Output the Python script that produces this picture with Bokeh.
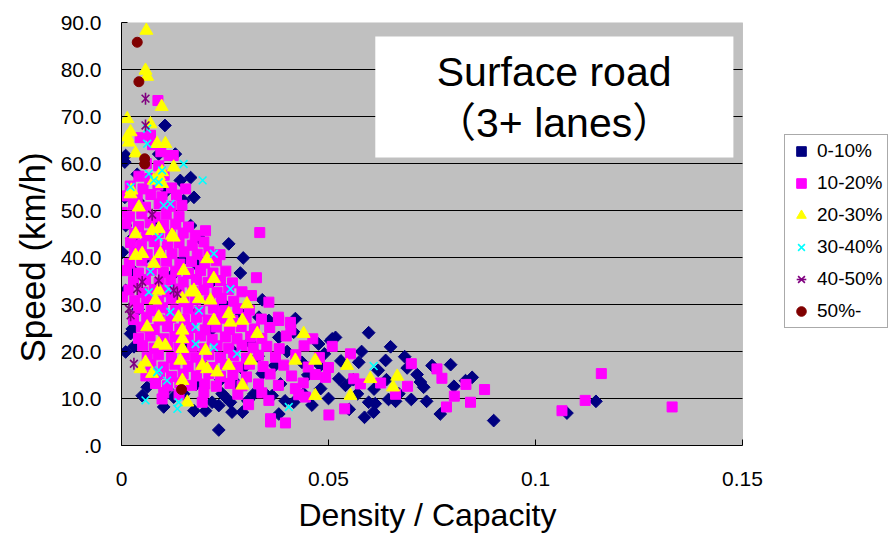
import math
from bokeh.plotting import figure
from bokeh.models import (Range1d, FixedTicker, CustomJSTickFormatter, Legend, LegendItem,
                          BoxAnnotation, Label, Title)
from bokeh.embed import file_html
from bokeh.resources import INLINE

# ---------------- data (Density/Capacity, Speed km/h) ----------------
series_labels = ["0-10%", "10-20%", "20-30%", "30-40%", "40-50%", "50%-"]
x_ticks = [0, 0.05, 0.1, 0.15]
y_ticks = [0, 10, 20, 30, 40, 50, 60, 70, 80, 90]

navy_pts = [
    (0.0105, 68.1), (0.001, 61.7), (0.0008, 60.3), (0.0038, 57.7), (0.013, 62), (0.0142, 56.4),
    (0.0167, 57), (0.0175, 52.8), (0.015, 52.1), (0.0008, 52.8), (0.011, 54.3), (0.001, 46.8),
    (0.0167, 46.8), (0.0259, 42.9), (0.0002, 41.1), (0.0147, 39.4), (0.0179, 38.7), (0.0294, 39.9),
    (0.0287, 36.7), (0.0247, 30.1), (0.001, 33), (0.0026, 24.8), (0.0219, 24.8), (0.0183, 28.4),
    (0.0332, 27.3), (0.0022, 23.8), (0.001, 19.9), (0.0062, 12.4), (0.005, 10.6), (0.0102, 8.2),
    (0.0175, 7.4), (0.0203, 7.4), (0.0235, 8.5), (0.0267, 7.1), (0.0243, 11), (0.0235, 3.3),
    (0.0126, 10.3), (0.0219, 9.2), (0.0292, 16.3), (0.0251, 10.3), (0.0263, 9.2), (0.0356, 26.6),
    (0.0416, 24.1), (0.0476, 21.6), (0.0509, 22.7), (0.0436, 17.7), (0.0384, 13.1), (0.034, 15.3),
    (0.0364, 10.6), (0.0525, 14.2), (0.0541, 12.8), (0.038, 6.7), (0.0352, 10.6), (0.0481, 12.1),
    (0.0292, 7.1), (0.0416, 9.2), (0.0505, 22.3), (0.0573, 17.7), (0.0517, 23), (0.0597, 24),
    (0.0684, 18.9), (0.0638, 18.1), (0.0795, 17.2), (0.0714, 15.1), (0.0722, 13.5), (0.073, 12.4),
    (0.0847, 14.5), (0.0831, 13.8), (0.0803, 12.6), (0.0737, 9.4), (0.077, 6.7), (0.0899, 5.3),
    (0.1146, 9.4), (0.1076, 6.9), (0.0587, 6), (0.0609, 7.1), (0.0597, 9.2), (0.0662, 9.4),
    (0.0645, 9.8), (0.0613, 8.9),
    (0.006, 40), (0.012, 36), (0.016, 22), (0.02, 17), (0.027, 20), (0.031, 22), (0.024, 14),
    (0.033, 19), (0.037, 17), (0.04, 20), (0.045, 15), (0.044, 11), (0.048, 17), (0.053, 18),
    (0.056, 14), (0.058, 20), (0.062, 16), (0.065, 21), (0.069, 16.5), (0.067, 11), (0.042, 27),
    (0.038, 23), (0.034, 31), (0.029, 28), (0.022, 35), (0.019, 44), (0.008, 47), (0.004, 52),
    (0.009, 62), (0.0025, 44), (0.003, 37), (0.004, 29), (0.003, 21), (0.008, 14), (0.011, 12),
    (0.015, 11), (0.018, 13), (0.028, 13), (0.032, 11), (0.046, 8.6), (0.05, 10), (0.055, 7.7),
    (0.07, 9.8), (0.075, 17), (0.061, 12), (0.057, 11), (0.064, 14), (0.049, 19.5), (0.0305, 9.5),
    (0.0395, 9.5),
]

magenta_pts = [
    (0.0042, 57.3), (0.0068, 56.8), (0.0103, 57.5),
    (0.0021, 55.2), (0.0052, 54.6), (0.0088, 55.4), (0.0121, 54.8),
    (0.0012, 53.1), (0.0038, 52.6), (0.0071, 53.4), (0.0098, 52.9), (0.0133, 53.3),
    (0.0029, 51.2), (0.0058, 50.7), (0.0091, 51.4), (0.0119, 50.9), (0.0146, 51.1),
    (0.0019, 48.8), (0.0049, 49.3), (0.0081, 48.6), (0.0108, 49.2), (0.0139, 48.7),
    (0.0011, 47.2), (0.0041, 46.6), (0.0069, 47.4), (0.0102, 46.9), (0.0131, 47.1), (0.0162, 46.5),
    (0.0032, 45.1), (0.0061, 44.6), (0.0089, 45.3), (0.0118, 44.8), (0.0149, 45.2), (0.0178, 44.7),
    (0.0022, 43.2), (0.0048, 42.7), (0.0079, 43.4), (0.0111, 42.8), (0.0139, 43.1), (0.0171, 42.6),
    (0.0199, 43.3),
    (0.0031, 41.1), (0.0062, 40.6), (0.0092, 41.3), (0.0122, 40.8), (0.0151, 41.2), (0.0183, 40.7),
    (0.0211, 41.2), (0.0238, 40.6),
    (0.0019, 38.8), (0.0049, 39.3), (0.0081, 38.7), (0.0109, 39.2), (0.0141, 38.6), (0.0169, 39.1),
    (0.0201, 38.8), (0.0229, 39.3),
    (0.0012, 37.2), (0.0041, 36.7), (0.0072, 37.3), (0.0101, 36.8), (0.0131, 37.1), (0.0162, 36.6),
    (0.0191, 37.2), (0.0221, 36.7), (0.0252, 37.1),
    (0.0029, 34.9), (0.0058, 35.3), (0.0091, 34.7), (0.0119, 35.2), (0.0149, 34.8), (0.0181, 35.3),
    (0.0209, 34.7), (0.0239, 35.1), (0.0268, 34.6),
    (0.0018, 33.1), (0.0051, 32.6), (0.0079, 33.2), (0.0111, 32.7), (0.0139, 33.3), (0.0172, 32.8),
    (0.0199, 33.1), (0.0231, 32.6), (0.0259, 33.2), (0.0291, 32.7),
    (0.0032, 30.8), (0.0061, 31.3), (0.0089, 30.7), (0.0121, 31.2), (0.0151, 30.6), (0.0179, 31.1),
    (0.0212, 30.8), (0.0241, 31.3), (0.0271, 30.7),
    (0.0041, 29.2), (0.0072, 28.7), (0.0099, 29.3), (0.0131, 28.8), (0.0161, 29.1), (0.0189, 28.6),
    (0.0222, 29.2), (0.0249, 28.7), (0.0281, 29.1), (0.0309, 28.8),
    (0.0029, 26.8), (0.0061, 27.3), (0.0091, 26.7), (0.0119, 27.2), (0.0152, 26.8), (0.0181, 27.3),
    (0.0209, 26.7), (0.0241, 27.1), (0.0269, 26.6), (0.0301, 27.2), (0.0338, 26.9), (0.0379, 27.3),
    (0.0048, 25.2), (0.0079, 24.7), (0.0111, 25.3), (0.0141, 24.8), (0.0169, 25.1), (0.0202, 24.6),
    (0.0229, 25.2), (0.0261, 24.7), (0.0289, 25.3), (0.0321, 24.8), (0.0358, 25.1), (0.0409, 24.6),
    (0.0041, 22.8), (0.0069, 23.3), (0.0102, 22.7), (0.0129, 23.2), (0.0161, 22.8), (0.0191, 23.3),
    (0.0219, 22.6), (0.0251, 23.1), (0.0279, 22.7), (0.0312, 23.2), (0.0339, 22.8), (0.0398, 23.3),
    (0.0462, 22.7),
    (0.0051, 21.2), (0.0079, 20.7), (0.0112, 21.3), (0.0139, 20.8), (0.0171, 21.1), (0.0199, 20.6),
    (0.0231, 21.2), (0.0259, 20.7), (0.0291, 21.3), (0.0318, 20.8), (0.0351, 21.1), (0.0381, 20.6),
    (0.0441, 21.2),
    (0.0062, 18.8), (0.0089, 19.3), (0.0121, 18.7), (0.0152, 19.2), (0.0179, 18.8), (0.0211, 19.3),
    (0.0239, 18.7), (0.0271, 19.1), (0.0302, 18.6), (0.0331, 19.2), (0.0372, 18.8), (0.0421, 19.3),
    (0.0478, 18.7),
    (0.0071, 17.2), (0.0101, 16.7), (0.0129, 17.3), (0.0161, 16.8), (0.0192, 17.1), (0.0219, 16.6),
    (0.0251, 17.2), (0.0281, 16.7), (0.0309, 17.3), (0.0342, 16.8), (0.0392, 17.1), (0.0451, 16.7),
    (0.0059, 14.8), (0.0092, 15.3), (0.0121, 14.7), (0.0149, 15.2), (0.0181, 14.8), (0.0211, 15.3),
    (0.0239, 14.7), (0.0269, 15.1), (0.0302, 14.6), (0.0359, 15.2), (0.0411, 14.8), (0.0468, 15.1),
    (0.0082, 13.2), (0.0111, 12.7), (0.0141, 13.3), (0.0169, 12.8), (0.0201, 13.1), (0.0229, 12.6),
    (0.0262, 13.2), (0.0291, 12.7), (0.0331, 13.1), (0.0379, 12.8), (0.0439, 13.3),
    (0.0102, 11.2), (0.0139, 10.8), (0.0199, 11.3), (0.0281, 10.9), (0.0339, 11.2), (0.0428, 10.8),
    (0.0088, 73.4), (0.0045, 65.5), (0.007, 66), (0.0075, 64), (0.0095, 62.5), (0.0115, 61.7),
    (0.0125, 61.7), (0.006, 60), (0.009, 59.5), (0.0155, 54.6), (0.0002, 49.6), (0.0334, 45.3),
    (0.0203, 45.7), (0.0326, 35.7), (0.0356, 30.5), (0.0314, 31.9), (0.0002, 31.6),
    (0.0509, 21.1), (0.070, 17.4), (0.0762, 16.3), (0.0774, 14.3), (0.0832, 13), (0.0877, 11.9),
    (0.0804, 10.5), (0.0843, 9.2), (0.0785, 8.2), (0.1159, 15.3), (0.112, 9.6), (0.1064, 7.4),
    (0.133, 8.2), (0.0501, 6.5), (0.0539, 7.8), (0.0626, 13.3), (0.0691, 12.6), (0.0662, 10.9),
    (0.038, 26.6), (0.0408, 26.2), (0.0553, 19.5), (0.05, 16.6), (0.0493, 14.5), (0.0561, 14.2),
    (0.0577, 13.1), (0.0307, 8.7), (0.036, 5), (0.0396, 4.8), (0.0356, 9.6), (0.0444, 10.3),
    (0.042, 12.1), (0.0098, 9.9), (0.0195, 9.2), (0.036, 5.7),
]

yellow_pts = [
    (0.006, 88.3), (0.0058, 79.8), (0.0062, 78.5), (0.0097, 72.1), (0.0014, 69.5), (0.0022, 66.7),
    (0.0014, 65.6), (0.0018, 64.5), (0.007, 68.4), (0.0086, 64.2), (0.0106, 64.2), (0.0034, 62.2),
    (0.0126, 59.2), (0.0098, 58.2), (0.009, 57.4), (0.0078, 56.4), (0.0024, 54.3), (0.0042, 50.7),
    (0.0098, 55.7), (0.0034, 45), (0.0074, 45.7), (0.009, 46.1), (0.0122, 44.7), (0.0034, 40.4),
    (0.005, 40.8), (0.0094, 40.8), (0.0078, 38.7), (0.015, 37.2), (0.0207, 39.7), (0.0223, 35.5),
    (0.009, 33), (0.0175, 33), (0.0167, 32.6), (0.0215, 30.9), (0.0187, 31.2), (0.0147, 31.2),
    (0.0082, 30.9), (0.0259, 28), (0.009, 27.3), (0.0138, 27.3), (0.0223, 26.6), (0.0062, 25.2),
    (0.0147, 24.5), (0.0263, 26.2), (0.009, 21.6), (0.0106, 21.3), (0.0147, 22.7), (0.0147, 20.6),
    (0.0142, 18.1), (0.0203, 20.2), (0.0195, 17), (0.0207, 16.3), (0.0231, 15.6), (0.0259, 17),
    (0.0058, 17.7), (0.0046, 16.3), (0.0074, 15.3), (0.0147, 13.8), (0.0292, 12.8), (0.0159, 9.2),
    (0.0292, 26.6), (0.0328, 23.8), (0.044, 23.8), (0.0312, 18.1), (0.042, 18.1), (0.0468, 18.1),
    (0.0545, 17), (0.0468, 10.6), (0.0553, 10.6), (0.0666, 14.7), (0.0656, 12.4), (0.0601, 14.2),
    (0.0303, 30.1), (0.0022, 53.5), (0.0126, 44.3),
]

cyan_pts = [
    (0.0062, 67.4), (0.0062, 64.2), (0.015, 59.9), (0.0196, 56.4), (0.0066, 57.8), (0.0078, 56.4),
    (0.009, 56), (0.0022, 55), (0.0102, 51.1), (0.0118, 51.4), (0.0098, 58.5), (0.009, 44.3),
    (0.0223, 40.8), (0.007, 37), (0.0066, 32.6), (0.0114, 33.3), (0.0263, 33.3), (0.0118, 28.4),
    (0.0187, 28.7), (0.0179, 25.2), (0.0179, 21.6), (0.0223, 20.9), (0.0279, 19.5), (0.009, 16),
    (0.011, 13.8), (0.0058, 9.6), (0.0138, 9.2), (0.0135, 7.8), (0.0404, 8.2), (0.0609, 16.9),
    (0.0086, 15.6),
]

purple_pts = [
    (0.0058, 73.8), (0.0058, 68.1), (0.0074, 49.1), (0.005, 34.8), (0.009, 35.1), (0.0038, 33.3),
    (0.0126, 33), (0.0135, 32.3), (0.0018, 29.1), (0.0022, 27.7), (0.003, 17.4),
]

darkred_pts = [
    (0.0038, 85.8), (0.0042, 77.4), (0.0056, 61), (0.0056, 59.9), (0.0145, 11.9),
]


def xs(pts):
    return [p[0] for p in pts]


def ys(pts):
    return [p[1] for p in pts]


FONT = "Liberation Sans, Arial, Noto Sans CJK JP, sans-serif"

# frame: 621 px for the 0..0.15 plot area, extended to the right to host the legend
X0, X1 = x_ticks[0], x_ticks[-1]
Y0, Y1 = y_ticks[0], y_ticks[-1]
FRAME_W = 769
x_end = X1 * FRAME_W / 621.0

p = figure(width=890, height=539, output_backend="svg", toolbar_location=None,
           x_range=Range1d(X0, x_end), y_range=Range1d(Y0, Y1),
           min_border_left=121, min_border_right=0, min_border_top=22, min_border_bottom=94)
p.background_fill_color = "white"
p.border_fill_color = "white"
p.outline_line_color = None
p.xgrid.grid_line_color = None
p.ygrid.grid_line_color = None

# gray plot area with gray outline
plot_area = BoxAnnotation(left=X0, right=X1, bottom=Y0, top=Y1, fill_color="#c0c0c0", fill_alpha=1,
                          line_color="#808080", line_width=1, level="image")
p.add_layout(plot_area)

# horizontal grid lines restricted to the plot area
grid_vals = y_ticks[1:-1]
p.multi_line(xs=[[X0, X1] for _ in grid_vals], ys=[[v, v] for v in grid_vals],
             line_color="black", line_width=1)

for ax in (p.xaxis[0], p.yaxis[0]):
    ax.axis_line_color = "black"
    ax.axis_line_width = 1
    ax.major_tick_in = 6
    ax.major_tick_out = 0
    ax.minor_tick_line_color = None
    ax.major_label_text_font = FONT
    ax.major_label_text_font_size = "21px"
    ax.major_label_text_color = "black"

p.xaxis.bounds = (X0, X1)
p.xaxis.ticker = FixedTicker(ticks=x_ticks)
p.xaxis.formatter = CustomJSTickFormatter(code="return tick == 0 ? '0' : String(Math.round(tick*100)/100);")
p.yaxis.ticker = FixedTicker(ticks=y_ticks)
p.yaxis.formatter = CustomJSTickFormatter(code="return tick == 0 ? '.0' : tick.toFixed(1);")
p.xaxis.major_label_standoff = 26
p.yaxis.major_label_standoff = 20

# axis titles placed like the original (x title under the 0..0.15 area, y title slightly low)
x_title = Title(text="Density / Capacity", align="left", offset=177, standoff=13,
                text_font=FONT, text_font_size="32px", text_font_style="normal", text_color="black")
p.add_layout(x_title, "below")
y_title = Title(text="Speed (km/h)", align="left", offset=83, standoff=12,
                text_font=FONT, text_font_size="35px", text_font_style="normal", text_color="black")
p.add_layout(y_title, "left")

r0 = p.scatter(xs(navy_pts), ys(navy_pts), marker="square", angle=math.pi / 4, size=9,
               fill_color="#000080", line_color="#000080")
r1 = p.scatter(xs(magenta_pts), ys(magenta_pts), marker="square", size=10,
               fill_color="#ff00ff", line_color="#ff00ff")
r2 = p.scatter(xs(yellow_pts), ys(yellow_pts), marker="triangle", size=13,
               fill_color="#ffff00", line_color="#ffff00")
r3 = p.scatter(xs(cyan_pts), ys(cyan_pts), marker="x", size=11,
               line_color="#00ffff", line_width=1.6)
r4a = p.scatter(xs(purple_pts), ys(purple_pts), marker="x", size=11,
                line_color="#800080", line_width=1.6)
r4b = p.scatter(xs(purple_pts), ys(purple_pts), marker="dash", angle=math.pi / 2, size=12,
                line_color="#800080", line_width=1.6)
r5 = p.scatter(xs(darkred_pts), ys(darkred_pts), marker="circle", size=10,
               fill_color="#800000", line_color="#800000")

legend = Legend(items=[
    LegendItem(label=series_labels[0], renderers=[r0]),
    LegendItem(label=series_labels[1], renderers=[r1]),
    LegendItem(label=series_labels[2], renderers=[r2]),
    LegendItem(label=series_labels[3], renderers=[r3]),
    LegendItem(label=series_labels[4], renderers=[r4a, r4b]),
    LegendItem(label=series_labels[5], renderers=[r5]),
], location=(663, 117))
legend.label_text_font = FONT
legend.label_text_font_size = "19px"
legend.label_text_color = "black"
legend.glyph_width = 24
legend.glyph_height = 24
legend.label_height = 24
legend.spacing = 8
legend.padding = 4
legend.margin = 0
legend.label_standoff = 4
legend.border_line_color = "#555555"
legend.border_line_width = 1
legend.background_fill_color = "white"
legend.background_fill_alpha = 1
p.add_layout(legend)

box = BoxAnnotation(left=0.0613, right=0.1478, bottom=61.3, top=87.0,
                    fill_color="white", fill_alpha=1, line_color=None)
p.add_layout(box)
p.add_layout(Label(x=0.1045, y=79.4, text="Surface road", text_align="center", text_baseline="middle",
                   text_font=FONT, text_font_size="41px", text_color="black"))
p.add_layout(Label(x=0.1045, y=68.6, text="（3+ lanes）", text_align="center", text_baseline="middle",
                   text_font=FONT, text_font_size="41px", text_color="black"))

open("out.html", "w").write(file_html(p, INLINE))
